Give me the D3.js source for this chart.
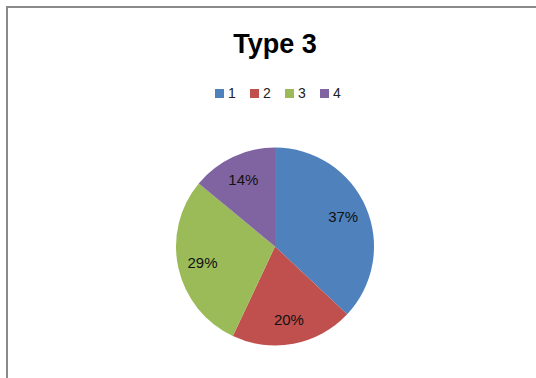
<!DOCTYPE html>
<html>
<head>
<meta charset="utf-8">
<script src="https://cdn.jsdelivr.net/npm/d3@7/dist/d3.min.js"></script>
<style>
html,body{margin:0;padding:0;background:#fff;}
svg{display:block;}
</style>
</head>
<body>
<svg id="chart" width="536" height="378"></svg>
<script>
const title = "Type 3";
const categories = ["1", "2", "3", "4"];
const values = [37, 20, 29, 14];
const colors = ["#4F81BD", "#C0504D", "#9BBB59", "#8064A2"];

const svg = d3.select("#chart");
const W = 536, H = 378;

// chart area border (extends beyond the view on right and bottom)
svg.append("rect")
  .attr("x", 7).attr("y", 7)
  .attr("width", W + 20).attr("height", H + 20)
  .attr("fill", "#fff")
  .attr("stroke", "#8a8a8a")
  .attr("stroke-width", 2);

// title
svg.append("text")
  .attr("x", 275).attr("y", 53)
  .attr("text-anchor", "middle")
  .attr("font-family", "Liberation Sans, Arial, sans-serif")
  .attr("font-weight", "bold")
  .attr("font-size", 27)
  .attr("fill", "#000")
  .text(title);

// legend
const legX = d3.scalePoint().domain(categories).range([215, 320]);
const leg = svg.append("g");
categories.forEach((c, i) => {
  const x = legX(c);
  leg.append("rect")
    .attr("x", x).attr("y", 89)
    .attr("width", 9).attr("height", 9)
    .attr("fill", colors[i]);
  leg.append("text")
    .attr("x", x + 13).attr("y", 98)
    .attr("font-family", "Liberation Sans, Arial, sans-serif")
    .attr("font-size", 14)
    .attr("fill", "#222")
    .text(c);
});

// pie
const cx = 275, cy = 246.5, r = 99;
const pie = d3.pie().sort(null).value(d => d)(values);
const arc = d3.arc().innerRadius(0).outerRadius(r);
const labelArc = d3.arc().innerRadius(r * 0.75).outerRadius(r * 0.75);
const total = d3.sum(values);

const g = svg.append("g").attr("transform", `translate(${cx},${cy})`);
g.selectAll("path.slice")
  .data(pie)
  .join("path")
  .attr("class", "slice")
  .attr("d", arc)
  .attr("fill", (d, i) => colors[i]);

g.selectAll("text.lbl")
  .data(pie)
  .join("text")
  .attr("class", "lbl")
  .attr("transform", d => `translate(${labelArc.centroid(d)})`)
  .attr("text-anchor", "middle")
  .attr("dy", "0.36em")
  .attr("font-family", "Liberation Sans, Arial, sans-serif")
  .attr("font-size", 15)
  .attr("fill", "#111")
  .text(d => Math.round(d.value / total * 100) + "%");
</script>
</body>
</html>
